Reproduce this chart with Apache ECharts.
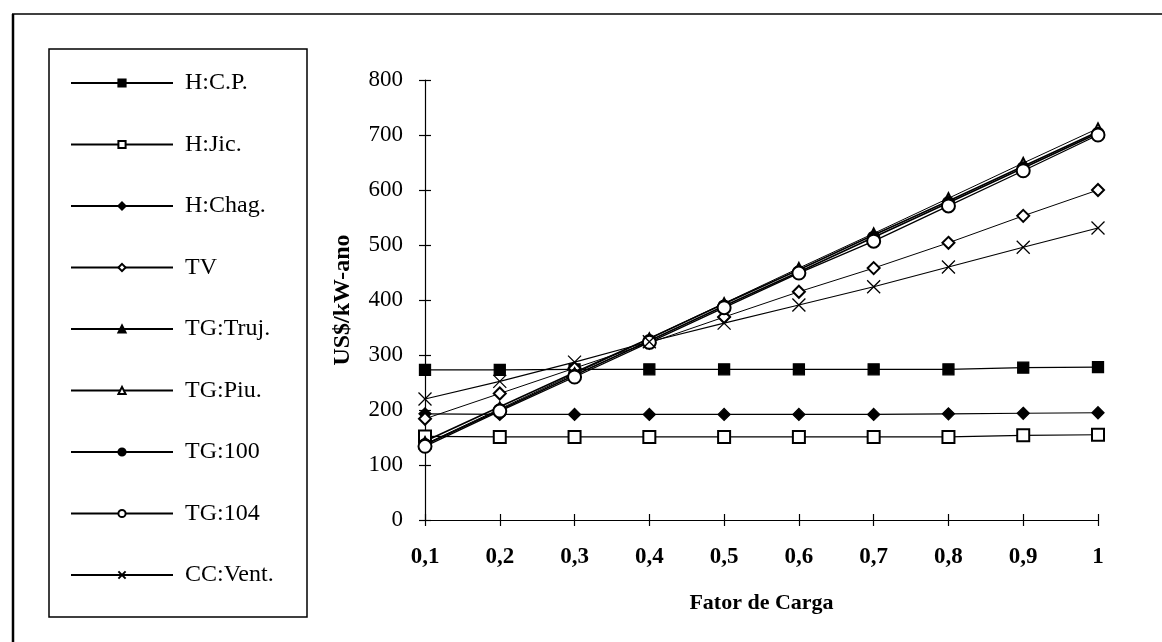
<!DOCTYPE html>
<html>
<head>
<meta charset="utf-8">
<script src="https://cdn.jsdelivr.net/npm/echarts@6/dist/echarts.min.js"></script>
<style>
  html, body { margin: 0; padding: 0; background: #fff; }
  #chart { width: 1162px; height: 642px; }
</style>
</head>
<body>
<div id="chart"></div>
<script>
// Load factor categories (x axis)
const fatorCarga = ['0,1', '0,2', '0,3', '0,4', '0,5', '0,6', '0,7', '0,8', '0,9', '1'];

// Annual cost per plant, US$/kW-ano
const hCP    = [273, 273, 274, 274, 274, 274, 274, 274, 277, 278];
const hJic   = [152, 151, 151, 151, 151, 151, 151, 151, 154, 155];
const hChag  = [193, 192, 192, 192, 192, 192, 192, 193, 194, 195];
const tv     = [184, 230, 276, 322, 369, 415, 458, 504, 553, 600];
const tgTruj = [143, 206, 268, 330, 393, 455, 518, 580, 643, 706];
const tgPiu  = [138, 202, 266, 330, 394, 458, 521, 585, 649, 712];
const tg100  = [137, 200, 263, 326, 389, 451, 514, 577, 640, 703];
const tg104  = [134, 198, 260, 323, 386, 449, 507, 571, 635, 700];
const ccVent = [220, 252, 287, 324, 358, 391, 424, 460, 496, 531];

const yTicks = { min: 0, max: 800, interval: 100 };

const SERIF = '"Liberation Serif", "Times New Roman", serif';
const crossMark = 'path://M0,0L10,10M0,10L10,0';

function line(name, data, symbol, size, width) {
  return {
    name: name,
    type: 'line',
    data: data,
    symbol: symbol,
    symbolSize: size,
    showAllSymbol: true,
    lineStyle: { color: '#000', width: width },
    itemStyle: { color: '#000', borderColor: '#000', borderWidth: 1.3 },
    emphasis: { disabled: true },
    animation: false
  };
}

const series = [
  line('H:C.P.',    hCP,    'rect',          11, 1.3),
  line('H:Jic.',    hJic,   'emptyRect',     12, 1.2),
  line('H:Chag.',   hChag,  'diamond',       12, 1.1),
  line('TV',        tv,     'emptyDiamond',  12, 1.0),
  line('TG:Truj.',  tgTruj, 'triangle',      10, 1.7),
  line('TG:Piu.',   tgPiu,  'emptyTriangle', 10, 1.0),
  line('TG:100',    tg100,  'circle',        12, 1.7),
  line('TG:104',    tg104,  'emptyCircle',   13, 1.3),
  line('CC:Vent.',  ccVent, crossMark,       13, 1.1)
];

const chart = echarts.init(document.getElementById('chart'), null, { renderer: 'canvas' });

chart.setOption({
  backgroundColor: '#fff',
  animation: false,
  grid: { left: 425, right: 64, top: 80, bottom: 122, containLabel: false },
  legend: {
    orient: 'vertical',
    left: 70,
    top: 71,
    itemWidth: 102,
    itemHeight: 9,
    itemGap: 37.5,
    padding: 0,
    selectedMode: false,
    textStyle: { fontFamily: SERIF, fontSize: 24, color: '#000', padding: [0, 0, 0, 7] },
    data: series.map(s => s.name)
  },
  xAxis: [
    {
      type: 'category',
      data: fatorCarga,
      boundaryGap: false,
      name: 'Fator de Carga',
      nameLocation: 'middle',
      nameGap: 72,
      nameTextStyle: { fontFamily: SERIF, fontSize: 22, fontWeight: 'bold', color: '#000' },
      axisLine: { lineStyle: { color: '#000', width: 1.2 } },
      axisTick: { show: true, inside: false, length: 6, lineStyle: { color: '#000', width: 1.2 } },
      axisLabel: { fontFamily: SERIF, fontSize: 23, fontWeight: 'bold', color: '#000', margin: 26 },
      splitLine: { show: false }
    },
    {
      type: 'category',
      data: fatorCarga,
      boundaryGap: false,
      position: 'bottom',
      axisLine: { show: false },
      axisTick: { show: true, inside: true, length: 6, lineStyle: { color: '#000', width: 1.2 } },
      axisLabel: { show: false },
      splitLine: { show: false }
    }
  ],
  yAxis: [
    {
      type: 'value',
      min: yTicks.min,
      max: yTicks.max,
      interval: yTicks.interval,
      name: 'US$/kW-ano',
      nameLocation: 'middle',
      nameGap: 70,
      nameRotate: 90,
      nameTextStyle: { fontFamily: SERIF, fontSize: 24, fontWeight: 'bold', color: '#000' },
      axisLine: { show: true, lineStyle: { color: '#000', width: 1.2 } },
      axisTick: { show: true, inside: false, length: 6, lineStyle: { color: '#000', width: 1.2 } },
      axisLabel: { fontFamily: SERIF, fontSize: 23, color: '#000', margin: 22 },
      splitLine: { show: false }
    },
    {
      type: 'value',
      min: yTicks.min,
      max: yTicks.max,
      interval: yTicks.interval,
      position: 'left',
      axisLine: { show: false },
      axisTick: { show: true, inside: true, length: 6, lineStyle: { color: '#000', width: 1.2 } },
      axisLabel: { show: false },
      splitLine: { show: false }
    }
  ],
  graphic: [
    // outer frame (left and top edges)
    { type: 'line', shape: { x1: 13, y1: 14, x2: 13, y2: 642 }, style: { stroke: '#000', lineWidth: 2.5 }, silent: true },
    { type: 'line', shape: { x1: 12, y1: 14, x2: 1162, y2: 14 }, style: { stroke: '#000', lineWidth: 1.5 }, silent: true },
    // legend box
    { type: 'rect', shape: { x: 49, y: 49, width: 258, height: 568 }, style: { fill: 'none', stroke: '#000', lineWidth: 1.5 }, silent: true, z: -1 }
  ],
  series: series
});
</script>
</body>
</html>
